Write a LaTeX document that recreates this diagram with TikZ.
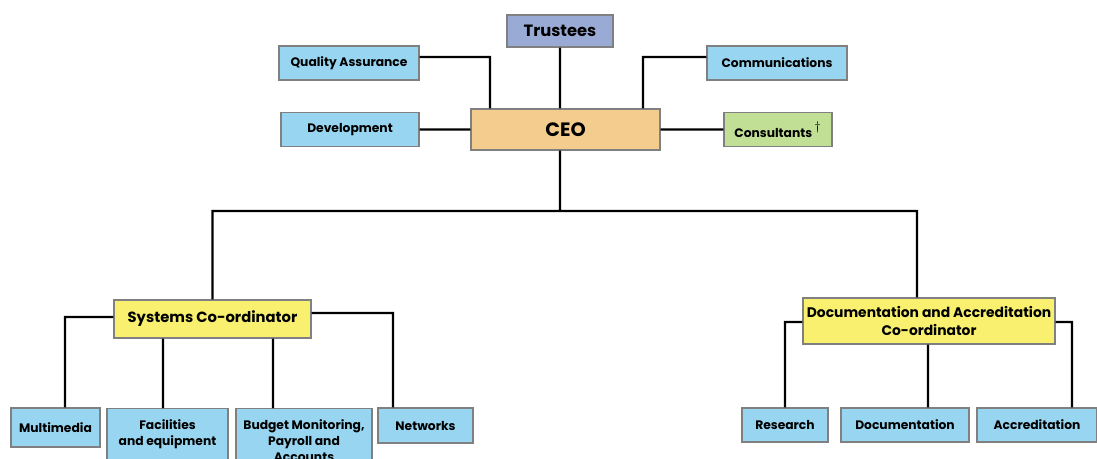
\documentclass[tikz,border=0pt]{standalone}
\usepackage{fontspec}
\setmainfont{Poppins}
\usetikzlibrary{positioning,calc}
\definecolor{boxblue}{RGB}{152,213,240}
\definecolor{trustblue}{RGB}{153,170,212}
\definecolor{ceoorange}{RGB}{244,204,142}
\definecolor{consgreen}{RGB}{193,224,150}
\definecolor{coordyellow}{RGB}{248,240,110}
\definecolor{boxgray}{RGB}{128,128,128}

\begin{document}
\begin{tikzpicture}[% pixel units, y running downwards like the chart
		x=0.02cm,y=-0.02cm,
		every node/.style={
			align=center,		% so that "\\" breaks lines
			draw=boxgray,line width=0.8pt,
			inner sep=1pt,
			font=\bfseries\fontsize{7}{9}\selectfont
		},
		unit/.style={fill=boxblue},
		link/.style={draw,line width=1.3pt}
	]
	\useasboundingbox (0,0) rectangle (1097,459);
	\clip (0,0) rectangle (1097,459);
	% top of the chart
	\node[fill=trustblue,minimum width=106*0.02cm,minimum height=32*0.02cm,font=\bfseries\fontsize{9.3}{11}\selectfont](Trust) at (560,31){Trustees};
	\node[fill=ceoorange,minimum width=189*0.02cm,minimum height=41*0.02cm,font=\bfseries\fontsize{11}{13}\selectfont](CEO) at (565.5,129.5){CEO};
	\node[unit,minimum width=140*0.02cm,minimum height=34*0.02cm](QA) at (349,63){Quality Assurance};
	\node[unit,minimum width=140*0.02cm,minimum height=34*0.02cm](Comm) at (777,63){Communications};
	\node[unit,minimum width=138*0.02cm,minimum height=34*0.02cm](Dev) at (350,129.5){Development};
	\node[fill=consgreen,minimum width=108*0.02cm,minimum height=34*0.02cm](Cons) at (778,129.5){Consultants\,\raisebox{1pt}{$^{\textstyle\dagger}$}};
	% co-ordinators
	\node[fill=coordyellow,minimum width=197*0.02cm,minimum height=38*0.02cm,font=\bfseries\fontsize{8.4}{10.5}\selectfont](Sys) at (212.5,319){Systems Co-ordinator};
	\node[fill=coordyellow,minimum width=252*0.02cm,minimum height=46*0.02cm,font=\bfseries\fontsize{7.9}{10}\selectfont](DocAcc) at (929,321){Documentation and Accreditation\\Co-ordinator};
	% bottom row
	\node[unit,minimum width=89*0.02cm,minimum height=39*0.02cm](Multi) at (55.5,427.5){Multimedia};
	\node[unit,anchor=north,minimum width=121*0.02cm,minimum height=64*0.02cm](Facil) at (167.5,408){Facilities\\and equipment\\\mbox{}};
	\node[unit,anchor=north,minimum width=136*0.02cm,minimum height=64*0.02cm](Budget) at (304,408){Budget Monitoring,\\Payroll and\\Accounts};
	\node[unit,minimum width=95*0.02cm,minimum height=35*0.02cm](Net) at (425.5,425.5){Networks};
	\node[unit,minimum width=86*0.02cm,minimum height=34*0.02cm](Res) at (785,425){Research};
	\node[unit,minimum width=128*0.02cm,minimum height=34*0.02cm](Docu) at (905,425){Documentation};
	\node[unit,minimum width=120*0.02cm,minimum height=34*0.02cm](Accr) at (1037,425){Accreditation};
	\coordinate (Bus) at (560,211);

	\path[link]
	(Trust.south) -- (Trust.south |- CEO.north)
	([yshift=0.12cm]QA.east) -| ($(CEO.north)+(-75.5,0)$)
	([yshift=0.12cm]Comm.west) -| ($(CEO.north)+(77.5,0)$)
	(Dev.east) -- (CEO.west)
	(CEO.east) -- (Cons.west)
	(Trust.south |- CEO.south) -- (Bus)
	(Sys.north) |- (Bus) -| ($(DocAcc.north)+(-12,0)$)
	([yshift=0.04cm]Sys.west) -| ($(Multi.north)+(9.5,0)$)
	($(Sys.south)+(-49.5,0)$) -- ($(Facil.north)+(-4.5,0)$)
	($(Sys.south)+(60.5,0)$) -- ($(Budget.north)+(-31,0)$)
	([yshift=0.12cm]Sys.east) -| ($(Net.north)+(-32.5,0)$)
	([yshift=-0.02cm]DocAcc.west) -| (Res.north)
	($(DocAcc.south)+(-1,0)$) -- ($(Docu.north)+(23,0)$)
	([yshift=-0.02cm]DocAcc.east) -| ($(Accr.north)+(35,0)$)
	;
\end{tikzpicture}
\end{document}
